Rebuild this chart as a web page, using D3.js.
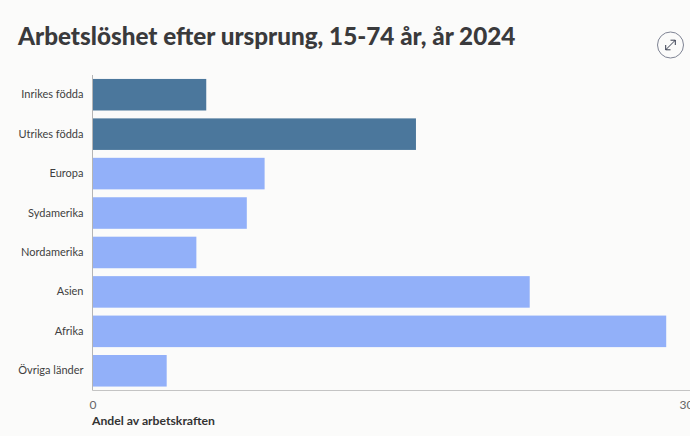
<!DOCTYPE html>
<html>
<head>
<meta charset="utf-8">
<script src="https://cdnjs.cloudflare.com/ajax/libs/d3/7.8.5/d3.min.js"></script>
<style>
  html,body{margin:0;padding:0;background:#fbfbfa;overflow:hidden;}
  svg{display:block;font-family:Lato,sans-serif;}
</style>
</head>
<body>
<div id="chart"></div>
<script>
var categories = ["Inrikes födda","Utrikes födda","Europa","Sydamerika","Nordamerika","Asien","Afrika","Övriga länder"];
var values = [5.75,16.35,8.7,7.8,5.25,22.1,29,3.75];
var barColors = ["#4b779c","#4b779c","#92b0f9","#92b0f9","#92b0f9","#92b0f9","#92b0f9","#92b0f9"];
var xTicks = [0,30];

var width = 690, height = 436;
var svg = d3.select("#chart").append("svg")
  .attr("width", width)
  .attr("height", height);

var x = d3.scaleLinear().domain([0,30]).range([92.5,686]);
var y = d3.scaleBand().domain(categories).range([75,390.5]).paddingInner(0.2).paddingOuter(0.1);

svg.append("text")
  .attr("x", 18)
  .attr("y", 44.5)
  .attr("fill", "#3a3a3c")
  .style("font-size", "24.25px")
  .style("font-weight", 900)
  .text("Arbetslöshet efter ursprung, 15-74 år, år 2024");

// bars
svg.selectAll(".bar")
  .data(categories)
  .enter()
  .append("rect")
    .attr("class","bar")
    .attr("x", x(0))
    .attr("y", function(d){ return y(d) })
    .attr("width", function(d,i){ return x(values[i]) - x(0) })
    .attr("height", y.bandwidth())
    .attr("fill", function(d,i){ return barColors[i] });

// axis lines
svg.append("line").attr("x1",x(0)).attr("x2",x(0)).attr("y1",75).attr("y2",390.5).attr("stroke","#b5b5b5");
svg.append("line").attr("x1",x(0)).attr("x2",690).attr("y1",390.5).attr("y2",390.5).attr("stroke","#c4c4c4");

var yAxis = d3.axisLeft(y).tickSize(0).tickPadding(9);
var gy = svg.append("g").attr("transform","translate("+x(0)+",0)").call(yAxis);
gy.select(".domain").remove();
gy.selectAll("text").attr("fill","#3f3f41").style("font-size","11px").style("font-family","Lato,sans-serif");

var xAxis = d3.axisBottom(x).tickValues(xTicks).tickSize(0).tickPadding(0).tickFormat(d3.format("d"));
var gx = svg.append("g").attr("transform","translate(0,400)").call(xAxis);
gx.select(".domain").remove();
gx.selectAll("text").attr("fill","#666").style("font-size","12px").style("font-family","Lato,sans-serif");

svg.append("text")
  .attr("x", 92)
  .attr("y", 425)
  .attr("fill", "#333")
  .style("font-size", "12.2px")
  .style("font-weight", 700)
  .text("Andel av arbetskraften");

// expand button top right
var btn = svg.append("g").attr("transform","translate(670.5,45)");
btn.append("circle").attr("r",13).attr("fill","none").attr("stroke","#7f8494").attr("stroke-width",1);
btn.append("path")
  .attr("d","M-6,6L6,-6M0,-6H6V0M-6,0V6H0")
  .attr("fill","none")
  .attr("stroke","#2e3447")
  .attr("stroke-width",1.2)
  .attr("transform","scale(0.8)");
</script>
</body>
</html>
